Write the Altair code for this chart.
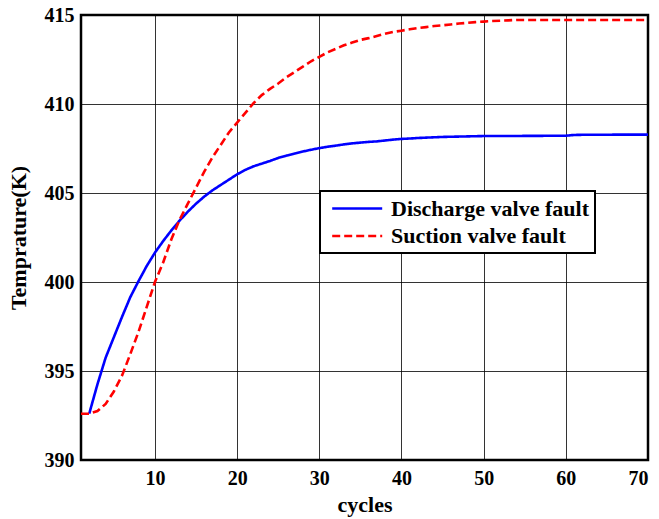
import altair as alt
import pandas as pd

# ---- data ----
discharge_x = list(range(2, 71))
discharge_y = [392.6, 394.25, 395.75, 396.9, 398.05, 399.15, 400.05, 400.9, 401.65, 402.3,
               402.9, 403.45, 403.95, 404.4, 404.8, 405.15, 405.45, 405.75, 406.05, 406.3,
               406.5, 406.65, 406.8, 406.97, 407.1, 407.22, 407.33, 407.43, 407.52, 407.6,
               407.66, 407.73, 407.79, 407.83, 407.87, 407.9, 407.95, 408.0, 408.04, 408.06,
               408.09, 408.11, 408.13, 408.15, 408.16, 408.17, 408.18, 408.19, 408.2, 408.2,
               408.2, 408.2, 408.2, 408.21, 408.21, 408.21, 408.22, 408.22, 408.22, 408.26,
               408.27, 408.27, 408.27, 408.27, 408.28, 408.28, 408.28, 408.28, 408.28]
suction_x = list(range(1, 71))
suction_y = [392.6, 392.6, 392.75, 393.15, 393.85, 394.75, 395.95, 397.2, 398.6, 400.0,
             401.1, 402.4, 403.5, 404.4, 405.3, 406.2, 407.0, 407.7, 408.4, 408.95,
             409.5, 410.05, 410.5, 410.85, 411.15, 411.5, 411.8, 412.1, 412.4, 412.65,
             412.9, 413.1, 413.3, 413.45, 413.6, 413.7, 413.82, 413.95, 414.05, 414.12,
             414.2, 414.27, 414.32, 414.38, 414.42, 414.47, 414.52, 414.56, 414.6, 414.63,
             414.66, 414.68, 414.7, 414.72, 414.72, 414.72, 414.72, 414.72, 414.72, 414.72,
             414.72, 414.72, 414.72, 414.72, 414.72, 414.72, 414.72, 414.72, 414.72, 414.72]
series_names = ["Discharge valve fault", "Suction valve fault"]
series_colors = ["#0000ff", "#ff0000"]
x_ticks = [10, 20, 30, 40, 50, 60, 70]
y_ticks = [390, 395, 400, 405, 410, 415]

df = pd.concat([
    pd.DataFrame({"cycles": discharge_x, "temp": discharge_y, "series": series_names[0], "o": 0}),
    pd.DataFrame({"cycles": suction_x, "temp": suction_y, "series": series_names[1], "o": 1}),
])

FONT = "Liberation Serif"

legend = alt.Legend(
    orient="none", legendX=239, legendY=176, title=None,
    symbolType="M-0.53,0H4.47", symbolSize=400, symbolStrokeWidth=2.5,
    labelFont=FONT, labelFontSize=22, labelFontWeight="bold", labelColor="black",
    labelOffset=42, labelLimit=500, padding=6, rowPadding=4.5,
    strokeColor="black", fillColor="white",
)

chart = alt.Chart(df).mark_line(strokeWidth=2.6).encode(
    x=alt.X("cycles:Q", scale=alt.Scale(domain=[1, 70], nice=False, zero=False),
            axis=alt.Axis(values=x_ticks, title="cycles", grid=True)),
    y=alt.Y("temp:Q", scale=alt.Scale(domain=[390, 415], nice=False, zero=False),
            axis=alt.Axis(values=y_ticks, title="Temprature(K)", grid=True)),
    color=alt.Color("series:N", scale=alt.Scale(domain=series_names, range=series_colors), legend=legend),
    strokeDash=alt.StrokeDash("series:N", scale=alt.Scale(domain=series_names, range=[[1, 0], [8, 4]]), legend=legend),
    order="o:Q",
).properties(
    width=567, height=445,
    background="white",
    autosize=alt.AutoSizeParams(type="none"),
    padding={"left": 81, "top": 15, "right": 11, "bottom": 59},
).configure_view(
    stroke="black", strokeWidth=2.5
).configure_axis(
    domain=False, ticks=False,
    gridColor="#000000", gridOpacity=0.8, gridWidth=1,
    labelFont=FONT, labelFontSize=20, labelFontWeight="bold", labelColor="black",
    titleFont=FONT, titleFontSize=22, titleFontWeight="bold", titleColor="black",
).configure_axisX(
    labelPadding=8, titlePadding=6,
).configure_axisY(
    labelPadding=7, titlePadding=14,
).configure_legend(
    strokeWidth=2
)

chart.save("out.html", embed_options={"renderer": "svg", "actions": False})
